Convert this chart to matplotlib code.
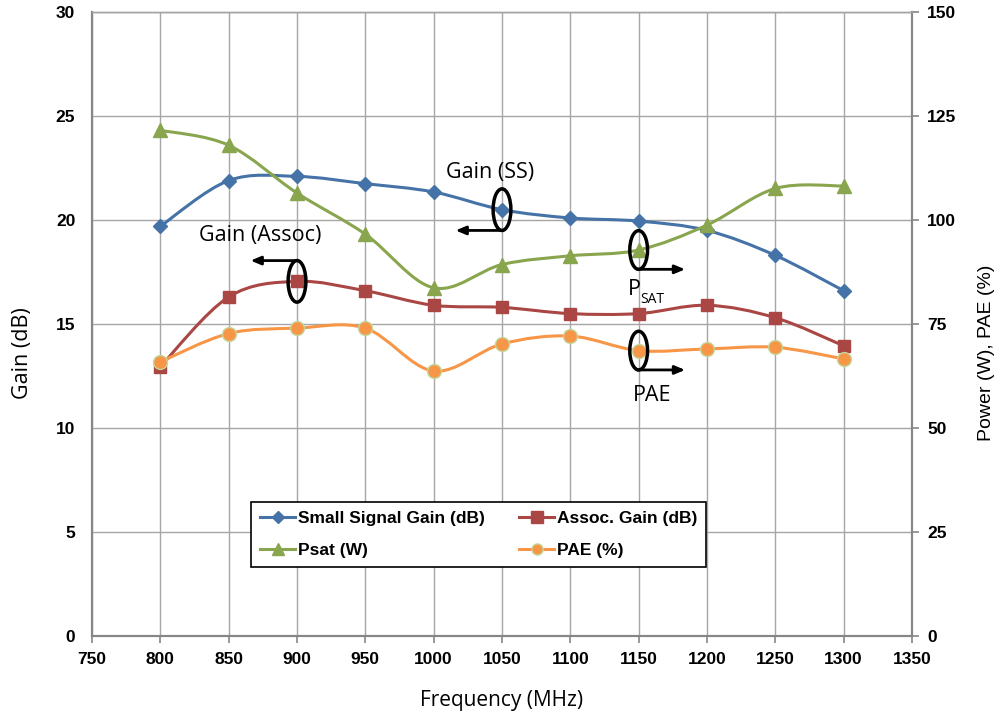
import matplotlib
matplotlib.use("Agg")
import matplotlib.pyplot as plt
from matplotlib.lines import Line2D
from matplotlib.path import Path
from matplotlib.patches import PathPatch, Ellipse

# Values
freq = [800, 850, 900, 950, 1000, 1050, 1100, 1150, 1200, 1250, 1300]
ss_gain = [19.7, 21.9, 22.1, 21.75, 21.35, 20.5, 20.1, 19.95, 19.5, 18.3, 16.6]
assoc_gain = [12.95, 16.3, 17.05, 16.6, 15.9, 15.8, 15.5, 15.5, 15.9, 15.3, 13.95]
psat = [121.6, 118.0, 106.5, 96.6, 83.7, 89.3, 91.4, 92.8, 98.8, 107.6, 108.2]
pae = [65.9, 72.7, 74.0, 74.0, 63.7, 70.2, 72.1, 68.6, 69.0, 69.4, 66.6]

x_ticks = list(range(750, 1351, 50))
gain_ticks = [0, 5, 10, 15, 20, 25, 30]
power_ticks = [0, 25, 50, 75, 100, 125, 150]

BLUE, RED, GREEN, ORANGE = "#4572A7", "#AA4643", "#89A54E", "#F79646"
GRID = "#A6A6A6"
LBL_FONT = "Open Sans"


def smooth_path(xs, ys):
    """Excel-like smoothed line: cubic Bezier through every point."""
    n = len(xs)
    verts = [(xs[0], ys[0])]
    codes = [Path.MOVETO]
    for i in range(n - 1):
        x0, y0 = (xs[i - 1], ys[i - 1]) if i > 0 else (xs[i], ys[i])
        x3, y3 = (xs[i + 2], ys[i + 2]) if i + 2 < n else (xs[i + 1], ys[i + 1])
        c1 = (xs[i] + (xs[i + 1] - x0) / 6, ys[i] + (ys[i + 1] - y0) / 6)
        c2 = (xs[i + 1] - (x3 - xs[i]) / 6, ys[i + 1] - (y3 - ys[i]) / 6)
        verts += [c1, c2, (xs[i + 1], ys[i + 1])]
        codes += [Path.CURVE4] * 3
    return Path(verts, codes)


def draw_series(ax, xs, ys, color, marker, ms, mec=None):
    ax.add_patch(PathPatch(smooth_path(xs, ys), fill=False, edgecolor=color,
                           lw=2.2, capstyle="round", zorder=3))
    ax.plot(xs, ys, linestyle="none", marker=marker, ms=ms, color=color,
            mec=mec or color, mew=1, zorder=4)


fig = plt.figure(figsize=(10, 7.16), dpi=100)
ax = fig.add_axes([0.092, 0.112, 0.820, 0.871])
ax2 = ax.twinx()

ax.set_xlim(750, 1350)
ax.set_ylim(0, 30)
ax2.set_ylim(0, 150)
ax.set_xticks(x_ticks)
ax.set_yticks(gain_ticks)
ax2.set_yticks(power_ticks)

ax.grid(True, color=GRID, lw=1)
ax.set_axisbelow(True)
for a in (ax, ax2):
    for s in a.spines.values():
        s.set_color("#868686")
        s.set_linewidth(1.5)
    a.spines["top"].set_color(GRID)
    a.spines["top"].set_linewidth(1)
    a.tick_params(colors="#868686", length=5, width=1.2, labelcolor="black")
    for lab in a.get_xticklabels() + a.get_yticklabels():
        lab.set_fontfamily("Liberation Sans")
        lab.set_fontweight("bold")
        lab.set_fontsize(12.5)
ax.tick_params(axis="y", length=0, pad=12)
ax2.tick_params(axis="y", pad=6)
ax.tick_params(axis="x", pad=7)

draw_series(ax, freq, ss_gain, BLUE, "D", 7)
draw_series(ax, freq, assoc_gain, RED, "s", 9)
draw_series(ax2, freq, psat, GREEN, "^", 10)
draw_series(ax2, freq, pae, ORANGE, "o", 10, mec="#C3D69B")

ax.set_xlabel("Frequency (MHz)", fontfamily=LBL_FONT, fontsize=15, labelpad=16)
ax.set_ylabel("Gain (dB)", fontfamily=LBL_FONT, fontsize=15.5)
ax.yaxis.set_label_coords(-0.072, 0.4535)
ax2.set_ylabel("Power (W), PAE (%)", fontfamily="Liberation Sans", fontsize=14)
ax2.yaxis.set_label_coords(1.0805, 0.4535)


# Callouts: ellipse round one marker plus an arrow to its axis
def callout(a, x, y, h, direction, at_top=False):
    a.add_patch(Ellipse((x, y), 13, h, fill=False, ec="black", lw=2.5, zorder=6))
    y0 = y + h / 2 if at_top else y - h / 2
    a.annotate("", xy=(x + direction * 34, y0), xytext=(x - direction, y0),
               arrowprops=dict(arrowstyle="-|>,head_length=0.6,head_width=0.25",
                               color="black", lw=2, shrinkA=0, shrinkB=0),
               zorder=6)


callout(ax, freq[5], ss_gain[5], 2.0, -1)
callout(ax, freq[2], assoc_gain[2], 2.0, -1, at_top=True)
callout(ax2, freq[7], psat[7], 9.3, 1)
callout(ax2, freq[7], pae[7], 9.3, 1)

ann = dict(fontfamily=LBL_FONT, fontsize=15.5, color="black", zorder=7)
ax.text(1009, 22.3, "Gain (SS)", ha="left", va="center", **ann)
ax.text(828, 19.28, "Gain (Assoc)", ha="left", va="center", **ann)
ax2.text(1146.5, 83.4, "P", ha="center", va="center", **ann)
ax2.text(1151, 80.9, "SAT", ha="left", va="center", fontfamily=LBL_FONT,
         fontsize=10, zorder=7)
ax2.text(1160, 57.9, "PAE", ha="center", va="center", **ann)

# handle order gives rows: SSG | Assoc, then Psat | PAE
handles = [
    Line2D([], [], color=BLUE, lw=2.2, marker="D", ms=6),
    Line2D([], [], color=GREEN, lw=2.2, marker="^", ms=8),
    Line2D([], [], color=RED, lw=2.2, marker="s", ms=8),
    Line2D([], [], color=ORANGE, lw=2.2, marker="o", ms=8, mec="#C3D69B"),
]
labels = ["Small Signal Gain (dB)", "Psat (W)", "Assoc. Gain (dB)", "PAE (%)"]
leg = ax2.legend(handles, labels, ncol=2, loc="upper left",
                 bbox_to_anchor=(0.183, 0.2292), frameon=True, fancybox=False,
                 edgecolor="black", framealpha=1, handlelength=2.0,
                 handletextpad=0.15, columnspacing=2.0, borderpad=0.55,
                 labelspacing=0.95,
                 prop={"family": "Liberation Sans", "weight": "bold", "size": 12.5})
leg.get_frame().set_linewidth(1.2)
leg.set_zorder(10)

fig.savefig("out.png", dpi=100)
